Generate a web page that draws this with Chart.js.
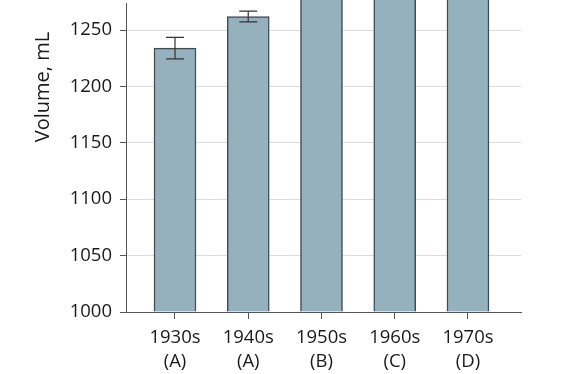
<!DOCTYPE html>
<html>
<head>
<meta charset="utf-8">
<script src="https://cdn.jsdelivr.net/npm/chart.js@4.4.1/dist/chart.umd.min.js"></script>
<style>
html,body{margin:0;padding:0;background:#fff;}
#c{display:block;}
</style>
</head>
<body>
<canvas id="c" width="572" height="374"></canvas>
<script>
const decades = ['1930s','1940s','1950s','1960s','1970s'];
const groups = ['(A)','(A)','(B)','(C)','(D)'];
const positions = [1,2,3,4,5];
const volumes = [1234, 1262, 1300, 1320, 1345];
const errors = [9.6, 4.8, 5, 5, 5];
const yTicks = [1000,1050,1100,1150,1200,1250];
const yTitle = 'Volume, mL';

const FONT = "'Open Sans', 'Noto Sans', sans-serif";
const TEXT = '#1a1a1a';
const AXIS = '#555';

const errorBars = {
  id: 'errorBars',
  afterDatasetsDraw(chart) {
    const {ctx, scales: {x, y}} = chart;
    ctx.save();
    ctx.strokeStyle = '#333';
    ctx.lineWidth = 1.2;
    volumes.forEach((v, i) => {
      const px = x.getPixelForValue(positions[i]);
      const top = y.getPixelForValue(v + errors[i]);
      const bot = y.getPixelForValue(v - errors[i]);
      ctx.beginPath();
      ctx.moveTo(px, top); ctx.lineTo(px, bot);
      ctx.moveTo(px - 9, top); ctx.lineTo(px + 9, top);
      ctx.moveTo(px - 9, bot); ctx.lineTo(px + 9, bot);
      ctx.stroke();
    });
    ctx.restore();
  }
};

const yTitlePlugin = {
  id: 'yTitle',
  afterDraw(chart) {
    const ctx = chart.ctx;
    ctx.save();
    ctx.translate(43, 87);
    ctx.rotate(-Math.PI / 2);
    ctx.font = "20px " + FONT;
    ctx.fillStyle = TEXT;
    ctx.textAlign = 'center';
    ctx.textBaseline = 'middle';
    ctx.fillText(yTitle, 0, 0);
    ctx.restore();
  }
};

new Chart(document.getElementById('c'), {
  type: 'bar',
  data: {
    datasets: [{
      data: volumes.map((v, i) => ({x: positions[i], y: v})),
      backgroundColor: '#96b1be',
      borderColor: '#3e4c55',
      borderWidth: 1.5,
      barThickness: 42,
      base: 1000,
      clip: false
    }]
  },
  options: {
    responsive: false,
    animation: false,
    events: [],
    layout: {padding: {top: 3, right: 51, left: 0, bottom: 0}},
    plugins: {legend: {display: false}, tooltip: {enabled: false}},
    scales: {
      x: {
        type: 'linear',
        offset: false,
        min: 0.331,
        max: 5.724,
        afterBuildTicks: s => { s.ticks = positions.map(v => ({value: v})); },
        afterFit: s => { s.height = 62; s.paddingLeft = 0; s.paddingRight = 0; },
        ticks: {
          callback: (v) => { const i = positions.indexOf(v); return i >= 0 ? [decades[i], groups[i]] : ''; },
          font: {family: FONT, size: 18.5, lineHeight: 1.33},
          color: TEXT,
          padding: 6,
          maxRotation: 0,
          autoSkip: false
        },
        grid: {offset: false, drawOnChartArea: false, drawTicks: true, tickLength: 7, tickColor: AXIS, tickWidth: 1},
        border: {display: true, color: AXIS, width: 1}
      },
      y: {
        min: 1000,
        max: 1274,
        afterBuildTicks: s => { s.ticks = yTicks.map(v => ({value: v})); },
        afterFit: s => { s.width = 126; s.paddingTop = 0; s.paddingBottom = 0; },
        ticks: {
          callback: v => String(v),
          font: {family: FONT, size: 18.5},
          color: TEXT,
          padding: 8,
          includeBounds: false
        },
        grid: {color: '#dcdcdc', lineWidth: 1, drawTicks: true, tickLength: 6, tickColor: AXIS},
        border: {display: true, color: AXIS, width: 1}
      }
    }
  },
  plugins: [errorBars, yTitlePlugin]
});
</script>
</body>
</html>
